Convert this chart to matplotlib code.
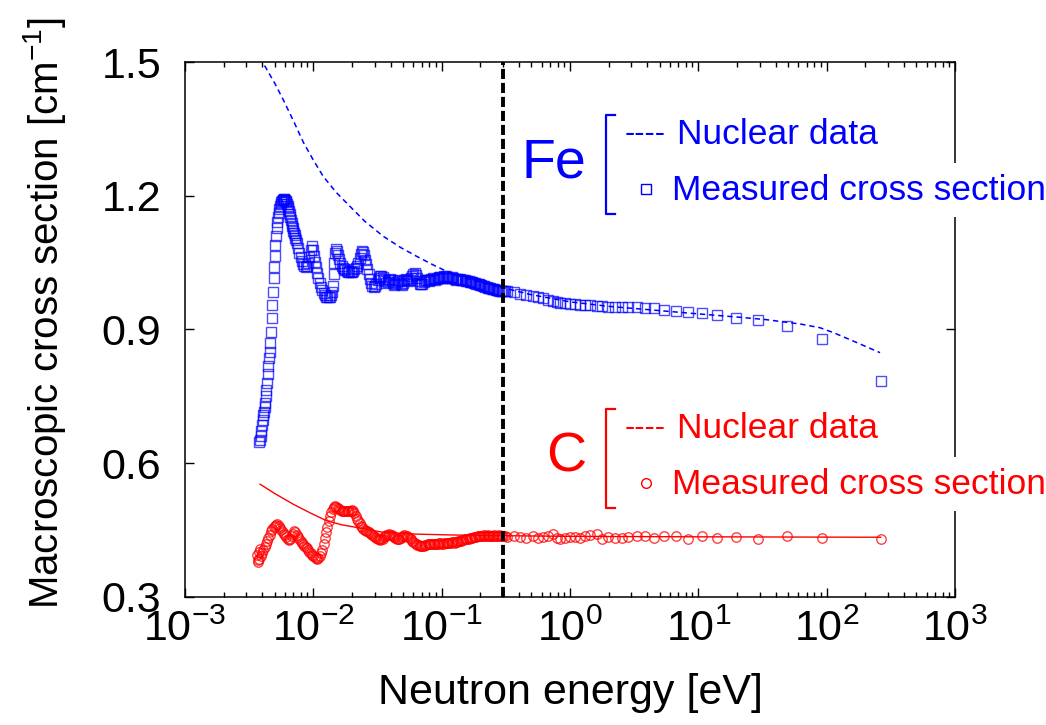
import numpy as np
import matplotlib
matplotlib.use("Agg")
import matplotlib.pyplot as plt
from matplotlib.lines import Line2D
from matplotlib.ticker import LogLocator, NullFormatter

plt.rcParams['font.family'] = ['Liberation Sans', 'DejaVu Sans']
plt.rcParams['mathtext.fontset'] = 'custom'
plt.rcParams['mathtext.rm'] = 'Liberation Sans'
plt.rcParams['mathtext.it'] = 'Liberation Sans:italic'
plt.rcParams['mathtext.default'] = 'regular'

# ---------------- data (energies given as log10(E / eV)) ----------------
# Fe measured, dense low-energy part
fe_low_logE = [
    -2.420, -2.415, -2.410, -2.405, -2.400, -2.395, -2.390, -2.385, -2.380, -2.375,
    -2.370, -2.365, -2.360, -2.355, -2.350, -2.345, -2.340, -2.335, -2.330, -2.325,
    -2.320, -2.315, -2.310, -2.305, -2.300, -2.295, -2.290, -2.285, -2.280, -2.275,
    -2.270, -2.265, -2.260, -2.255, -2.250, -2.245, -2.240, -2.235, -2.230, -2.225,
    -2.220, -2.215, -2.210, -2.205, -2.200, -2.195, -2.190, -2.185, -2.180, -2.175,
    -2.170, -2.165, -2.160, -2.155, -2.150, -2.145, -2.140, -2.135, -2.130, -2.120,
    -2.110, -2.100, -2.090, -2.080, -2.070, -2.060, -2.050, -2.040, -2.030, -2.020,
    -2.012, -2.005, -1.998, -1.990, -1.980, -1.970, -1.960, -1.950, -1.940, -1.930,
    -1.920, -1.910, -1.900, -1.890, -1.880, -1.870, -1.860, -1.852, -1.845, -1.840,
    -1.836, -1.832, -1.826, -1.818, -1.810, -1.800, -1.790, -1.780, -1.770, -1.760,
    -1.750, -1.740, -1.730, -1.720, -1.710, -1.700, -1.690, -1.680, -1.670, -1.660,
    -1.650, -1.640, -1.632, -1.624, -1.616, -1.608, -1.600, -1.590, -1.580, -1.570,
    -1.560, -1.550, -1.540, -1.530, -1.520, -1.510, -1.500, -1.490, -1.480, -1.470,
    -1.460, -1.450, -1.440, -1.430, -1.420, -1.410, -1.400, -1.390, -1.380, -1.370,
    -1.360, -1.350, -1.340, -1.330, -1.320, -1.310, -1.300, -1.290, -1.280, -1.270,
    -1.260, -1.250, -1.240, -1.230, -1.220, -1.210, -1.200, -1.190, -1.180, -1.170,
    -1.160, -1.150, -1.140, -1.130, -1.120, -1.110, -1.100, -1.090, -1.080, -1.070,
    -1.060, -1.050, -1.040, -1.030, -1.020, -1.010, -1.000, -0.990, -0.980, -0.970,
    -0.960, -0.950, -0.940, -0.930, -0.920, -0.910, -0.900, -0.890, -0.880, -0.870,
    -0.860, -0.850, -0.840, -0.830, -0.820, -0.810, -0.800, -0.790, -0.780, -0.770,
    -0.760, -0.750, -0.740, -0.730, -0.720, -0.710, -0.700, -0.690, -0.680, -0.670,
    -0.660, -0.650, -0.640, -0.630, -0.620, -0.610, -0.600, -0.590, -0.580, -0.570,
    -0.560, -0.550, -0.540, -0.530, -0.520, -0.510,
]
fe_low_measured = [
    0.648, 0.652, 0.662, 0.672, 0.685, 0.697, 0.708, 0.716, 0.726, 0.735,
    0.750, 0.765, 0.780, 0.800, 0.818, 0.835, 0.850, 0.870, 0.895, 0.925,
    0.955, 0.985, 1.015, 1.040, 1.065, 1.090, 1.110, 1.128, 1.142, 1.152,
    1.162, 1.170, 1.176, 1.181, 1.185, 1.188, 1.190, 1.191, 1.192, 1.192,
    1.191, 1.189, 1.186, 1.182, 1.178, 1.172, 1.166, 1.160, 1.153, 1.146,
    1.140, 1.133, 1.128, 1.122, 1.117, 1.112, 1.106, 1.100, 1.094, 1.083,
    1.072, 1.062, 1.054, 1.047, 1.043, 1.041, 1.043, 1.050, 1.062, 1.078,
    1.088, 1.078, 1.064, 1.052, 1.040, 1.027, 1.015, 1.004, 0.995, 0.988,
    0.982, 0.977, 0.974, 0.972, 0.972, 0.974, 0.978, 0.985, 0.998, 1.025,
    1.050, 1.072, 1.080, 1.076, 1.068, 1.058, 1.050, 1.043, 1.038, 1.035,
    1.033, 1.031, 1.029, 1.028, 1.028, 1.030, 1.032, 1.035, 1.038, 1.043,
    1.050, 1.060, 1.070, 1.076, 1.074, 1.066, 1.057, 1.046, 1.035, 1.024,
    1.013, 1.004, 0.998, 0.996, 0.998, 1.003, 1.010, 1.016, 1.020, 1.021,
    1.018, 1.013, 1.008, 1.005, 1.006, 1.010, 1.013, 1.010, 1.004, 1.000,
    1.002, 1.007, 1.011, 1.008, 1.003, 1.000, 1.004, 1.010, 1.014, 1.012,
    1.008, 1.011, 1.016, 1.021, 1.025, 1.026, 1.022, 1.015, 1.008, 1.003,
    1.001, 1.003, 1.007, 1.010, 1.012, 1.010, 1.008, 1.010, 1.013, 1.015,
    1.013, 1.011, 1.013, 1.016, 1.018, 1.017, 1.015, 1.016, 1.019, 1.020,
    1.018, 1.016, 1.015, 1.016, 1.017, 1.015, 1.013, 1.012, 1.013, 1.014,
    1.013, 1.011, 1.010, 1.011, 1.011, 1.009, 1.008, 1.008, 1.007, 1.006,
    1.006, 1.005, 1.004, 1.003, 1.002, 1.001, 1.000, 0.999, 0.998, 0.997,
    0.996, 0.995, 0.994, 0.993, 0.992, 0.991, 0.990, 0.990, 0.989, 0.988,
    0.988, 0.987, 0.987, 0.986, 0.986, 0.986,
]

# C measured, dense low-energy part
c_low_logE = [
    -2.440, -2.435, -2.430, -2.425, -2.420, -2.415, -2.410, -2.400, -2.390, -2.380,
    -2.370, -2.360, -2.350, -2.340, -2.330, -2.320, -2.310, -2.300, -2.290, -2.280,
    -2.270, -2.260, -2.250, -2.240, -2.230, -2.220, -2.210, -2.200, -2.190, -2.180,
    -2.170, -2.160, -2.150, -2.140, -2.130, -2.120, -2.110, -2.100, -2.090, -2.080,
    -2.070, -2.060, -2.050, -2.040, -2.030, -2.020, -2.010, -2.000, -1.990, -1.980,
    -1.970, -1.960, -1.950, -1.940, -1.930, -1.920, -1.910, -1.900, -1.890, -1.880,
    -1.870, -1.860, -1.850, -1.840, -1.830, -1.820, -1.810, -1.800, -1.790, -1.780,
    -1.770, -1.760, -1.750, -1.740, -1.730, -1.720, -1.710, -1.700, -1.690, -1.680,
    -1.670, -1.660, -1.650, -1.640, -1.630, -1.620, -1.610, -1.600, -1.590, -1.580,
    -1.570, -1.560, -1.550, -1.540, -1.530, -1.520, -1.510, -1.500, -1.490, -1.480,
    -1.470, -1.460, -1.450, -1.440, -1.430, -1.420, -1.410, -1.400, -1.390, -1.380,
    -1.370, -1.360, -1.350, -1.340, -1.330, -1.320, -1.310, -1.300, -1.290, -1.280,
    -1.270, -1.260, -1.250, -1.240, -1.230, -1.220, -1.210, -1.200, -1.190, -1.180,
    -1.170, -1.160, -1.150, -1.140, -1.130, -1.120, -1.110, -1.100, -1.090, -1.080,
    -1.070, -1.060, -1.050, -1.040, -1.030, -1.020, -1.010, -1.000, -0.990, -0.980,
    -0.970, -0.960, -0.950, -0.940, -0.930, -0.920, -0.910, -0.900, -0.890, -0.880,
    -0.870, -0.860, -0.850, -0.840, -0.830, -0.820, -0.810, -0.800, -0.790, -0.780,
    -0.770, -0.760, -0.750, -0.740, -0.730, -0.720, -0.710, -0.700, -0.690, -0.680,
    -0.670, -0.660, -0.650, -0.640, -0.630, -0.620, -0.610, -0.600, -0.590, -0.580,
    -0.570, -0.560, -0.550, -0.540, -0.530, -0.520, -0.510,
]
c_low_measured = [
    0.395, 0.382, 0.378, 0.385, 0.400, 0.408, 0.392, 0.398, 0.405, 0.412,
    0.418, 0.425, 0.432, 0.440, 0.447, 0.452, 0.457, 0.460, 0.462, 0.463,
    0.460, 0.455, 0.450, 0.446, 0.442, 0.438, 0.434, 0.430, 0.428, 0.430,
    0.436, 0.442, 0.447, 0.446, 0.440, 0.434, 0.429, 0.425, 0.421, 0.418,
    0.415, 0.412, 0.409, 0.405, 0.401, 0.398, 0.395, 0.392, 0.389, 0.387,
    0.386, 0.388, 0.392, 0.398, 0.406, 0.418, 0.432, 0.446, 0.458, 0.470,
    0.481, 0.491, 0.498, 0.502, 0.503, 0.502, 0.499, 0.497, 0.496, 0.494,
    0.493, 0.492, 0.493, 0.494, 0.493, 0.492, 0.494, 0.495, 0.493, 0.488,
    0.482, 0.476, 0.470, 0.465, 0.460, 0.456, 0.453, 0.451, 0.449, 0.447,
    0.446, 0.444, 0.442, 0.440, 0.437, 0.434, 0.432, 0.430, 0.429, 0.428,
    0.429, 0.431, 0.434, 0.437, 0.439, 0.440, 0.441, 0.440, 0.438, 0.436,
    0.434, 0.432, 0.430, 0.430, 0.431, 0.433, 0.435, 0.437, 0.438, 0.437,
    0.436, 0.434, 0.432, 0.429, 0.426, 0.423, 0.421, 0.419, 0.417, 0.416,
    0.415, 0.414, 0.414, 0.415, 0.416, 0.417, 0.418, 0.418, 0.419, 0.420,
    0.420, 0.420, 0.419, 0.419, 0.420, 0.421, 0.421, 0.420, 0.420, 0.421,
    0.422, 0.422, 0.421, 0.421, 0.422, 0.423, 0.423, 0.422, 0.423, 0.424,
    0.425, 0.425, 0.426, 0.427, 0.428, 0.429, 0.429, 0.430, 0.431, 0.432,
    0.433, 0.433, 0.434, 0.435, 0.435, 0.436, 0.436, 0.437, 0.437, 0.437,
    0.438, 0.437, 0.437, 0.438, 0.437, 0.437, 0.436, 0.437, 0.438, 0.437,
    0.436, 0.437, 0.438, 0.437, 0.436, 0.437, 0.436,
]

# shared sparse energy grid above 0.3 eV
high_logE = [
    -0.493, -0.440, -0.390, -0.340, -0.288, -0.250, -0.210, -0.170, -0.132, -0.105,
    -0.078, -0.040, 0.000, 0.040, 0.078, 0.115, 0.156, 0.208, 0.247, 0.299,
    0.351, 0.403, 0.454, 0.520, 0.584, 0.655, 0.733, 0.824, 0.922, 1.026,
    1.148, 1.294, 1.467, 1.689, 1.963, 2.421,
]
fe_high_measured = [
    0.986, 0.983, 0.980, 0.977, 0.975, 0.972, 0.970, 0.967, 0.963, 0.962,
    0.960, 0.959, 0.958, 0.957, 0.956, 0.955, 0.954, 0.953, 0.952, 0.951,
    0.951, 0.950, 0.950, 0.950, 0.949, 0.948, 0.944, 0.942, 0.939, 0.936,
    0.933, 0.926, 0.922, 0.907, 0.879, 0.784,
]
c_high_measured = [
    0.434, 0.436, 0.434, 0.432, 0.436, 0.433, 0.434, 0.437, 0.441, 0.432,
    0.429, 0.433, 0.434, 0.435, 0.432, 0.436, 0.439, 0.441, 0.429, 0.434,
    0.433, 0.432, 0.434, 0.436, 0.436, 0.433, 0.437, 0.436, 0.430, 0.436,
    0.432, 0.434, 0.430, 0.436, 0.432, 0.429,
]

# nuclear data curves
fe_nuc_logE = [-2.415, -2.390, -2.300, -2.234, -2.150, -2.078, -2.000, -1.922, -1.820,
               -1.714, -1.600, -1.455, -1.320, -1.194, -1.060, -0.935, -0.780, -0.600,
               -0.300, 0.000, 0.300, 0.753, 1.000, 1.300, 1.533, 1.800, 1.948, 2.052,
               2.200, 2.416]
fe_nuclear = [1.510, 1.497, 1.452, 1.415, 1.365, 1.320, 1.280, 1.243, 1.207,
              1.176, 1.143, 1.109, 1.084, 1.064, 1.044, 1.027, 1.012, 0.999,
              0.978, 0.962, 0.952, 0.941, 0.935, 0.928, 0.922, 0.912, 0.904, 0.893,
              0.875, 0.848]

c_nuc_logE = [-2.415, -2.300, -2.156, -2.020, -1.896, -1.780, -1.662, -1.455, -1.194,
              -0.900, -0.680, 0.000, 1.000, 2.421]
c_nuclear = [0.553, 0.532, 0.508, 0.488, 0.471, 0.462, 0.456, 0.445, 0.441,
             0.439, 0.438, 0.436, 0.435, 0.434]

boundary_energy = 0.3  # eV, vertical dashed line

# ---------------- figure ----------------
W, H = 1046, 725
fig = plt.figure(figsize=(W / 100, H / 100), dpi=100)
AX_L, AX_R, AX_T, AX_B = 185, 955, 62, 597
ax = fig.add_axes([AX_L / W, 1 - AX_B / H, (AX_R - AX_L) / W, (AX_B - AX_T) / H])

BLUE = '#0000ff'
RED = '#ff0000'

fe_E = 10 ** np.concatenate([fe_low_logE, high_logE])
fe_y = np.concatenate([fe_low_measured, fe_high_measured])
c_E = 10 ** np.concatenate([c_low_logE, high_logE])
c_y = np.concatenate([c_low_measured, c_high_measured])

ax.plot(10 ** np.array(fe_nuc_logE), fe_nuclear, color=BLUE, lw=1.1,
        linestyle=(0, (3.5, 2.5)), zorder=3)
ax.plot(10 ** np.array(c_nuc_logE), c_nuclear, color=RED, lw=1.0, zorder=3)

ax.plot(fe_E, fe_y, linestyle='none', marker='s', ms=7.0, mfc='none',
        mec=BLUE, mew=1.0, alpha=0.7, zorder=4)
ax.plot(c_E, c_y, linestyle='none', marker='o', ms=6.8, mfc='none',
        mec=RED, mew=1.0, alpha=0.75, zorder=4)

ax.axvline(boundary_energy, color='black', lw=2.8, linestyle=(0, (2.6, 1.0)), zorder=5)

ax.set_xscale('log')
ax.set_xlim(1e-3, 1e3)
ax.set_ylim(0.3, 1.5)
ax.set_yticks([0.3, 0.6, 0.9, 1.2, 1.5])
ax.set_yticklabels(['0.3', '0.6', '0.9', '1.2', '1.5'])
ax.xaxis.set_major_locator(LogLocator(base=10, numticks=10))
ax.xaxis.set_minor_locator(LogLocator(base=10, subs=np.arange(2, 10), numticks=20))
ax.xaxis.set_minor_formatter(NullFormatter())

ax.tick_params(which='both', direction='in', top=True, right=True, width=1.0)
ax.tick_params(which='major', length=6.5, labelsize=31)
ax.tick_params(which='minor', length=3.5)
ax.tick_params(axis='y', pad=17)
ax.tick_params(axis='x', pad=9)
for s in ax.spines.values():
    s.set_linewidth(1.1)

ax.set_xlabel('Neutron energy [eV]', fontsize=31, va='center')
ax.set_ylabel('Macroscopic cross section [cm$^{-1}$]', fontsize=29, va='center')
ax.xaxis.set_label_coords(0.5, (AX_B - 693) / (AX_B - AX_T))
ax.yaxis.set_label_coords((45 - AX_L) / (AX_R - AX_L), (AX_B - 313) / (AX_B - AX_T))


# ---------------- hand-made legend ----------------
def fx(px):
    return px / W


def fy(py):
    return 1 - py / H


def group(color, name, name_x, cy, marker):
    fig.text(fx(name_x), fy(cy), name, color=color, fontsize=40, ha='left', va='center')
    top, bot, bx = cy - 49, cy + 50, 606
    fig.add_artist(Line2D([fx(bx + 9), fx(bx), fx(bx), fx(bx + 9)],
                          [fy(top), fy(top), fy(bot), fy(bot)],
                          color=color, lw=1.6))
    fig.text(fx(625), fy(cy - 30), '----', color=color, fontsize=22, ha='left', va='center')
    fig.text(fx(677), fy(cy - 29), 'Nuclear data', color=color, fontsize=25.5,
             ha='left', va='center')
    fig.add_artist(Line2D([fx(646)], [fy(cy + 25)], marker=marker, ms=6.5 if marker == 's' else 7,
                          mfc='none', mec=color, mew=1.0, linestyle='none'))
    fig.text(fx(672), fy(cy + 26), 'Measured cross section', color=color, fontsize=25.5,
             ha='left', va='center',
             bbox=dict(boxstyle='square,pad=0.3', fc='white', ec='none'))


group(BLUE, 'Fe', 522, 164, 's')
group(RED, 'C', 546, 458, 'o')

fig.savefig('out.png', dpi=100)
